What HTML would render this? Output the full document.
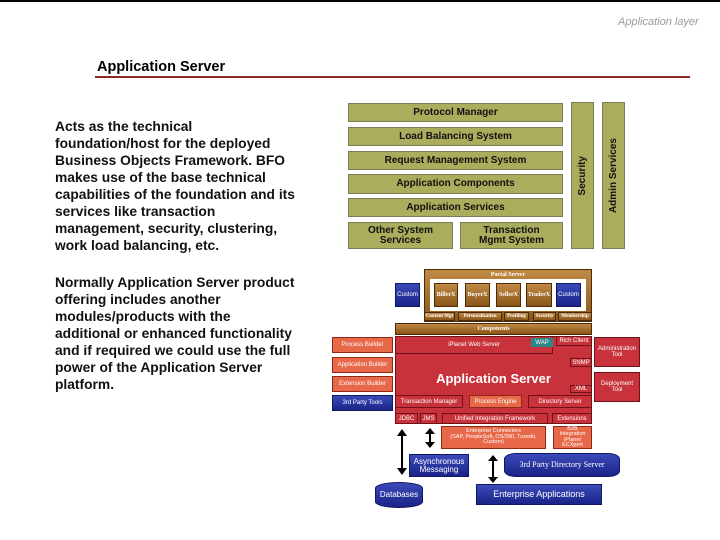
<!DOCTYPE html>
<html><head><meta charset="utf-8"><style>
*{margin:0;padding:0;box-sizing:border-box}
body{width:720px;height:540px;background:#fff;position:relative;overflow:hidden;font-family:"Liberation Sans",Arial,sans-serif}
.a{position:absolute;display:flex;align-items:center;justify-content:center;text-align:center;line-height:1}
.g{background:#a9ad5c;border:1px solid #7c7c5a;font-size:10px;font-weight:bold;color:#111}
.v{writing-mode:vertical-rl;transform:rotate(180deg)}
.br{background:linear-gradient(#c08a44,#8a5518);border:1px solid #4a2a08;color:#fff;font-size:6px;font-family:"Liberation Serif",serif;font-weight:bold}
.bl{background:linear-gradient(#3a4ab8,#1a2488);border:1px solid #101860;color:#fff;font-size:6px}
.rd{background:#c8323a;border:1px solid #701018;color:#fff;font-size:6px}
.or{background:#e8684a;border:1px solid #902818;color:#fff;font-size:6px}
.txt{position:absolute;left:55px;font-size:13.8px;font-weight:bold;line-height:17px;color:#111;white-space:nowrap}
</style></head><body>
<div style="position:absolute;left:0;top:0;width:720px;height:2px;background:#000"></div>
<div style="position:absolute;left:618px;top:16px;font-size:11px;font-style:italic;color:#999">Application layer</div>
<div style="position:absolute;left:97px;top:59px;font-size:14.5px;font-weight:bold;color:#000">Application Server</div>
<div style="position:absolute;left:95px;top:76px;width:595px;height:2px;background:#8b2a2a"></div>
<div class="txt" style="top:118px">Acts as the technical<br>foundation/host for the deployed<br>Business Objects Framework. BFO<br>makes use of the base technical<br>capabilities of the foundation and its<br>services like transaction<br>management, security, clustering,<br>work load balancing, etc.</div>
<div class="txt" style="top:274px">Normally Application Server product<br>offering includes another<br>modules/products with the<br>additional or enhanced functionality<br>and if required we could use the full<br>power of the Application Server<br>platform.</div>

<div class="a g" style="left:348px;top:103px;width:215px;height:19px">Protocol Manager</div>
<div class="a g" style="left:348px;top:127px;width:215px;height:19px">Load Balancing System</div>
<div class="a g" style="left:348px;top:151px;width:215px;height:19px">Request Management System</div>
<div class="a g" style="left:348px;top:174px;width:215px;height:20px">Application Components</div>
<div class="a g" style="left:348px;top:198px;width:215px;height:19px">Application Services</div>
<div class="a g" style="left:348px;top:222px;width:105px;height:27px">Other System<br>Services</div>
<div class="a g" style="left:460px;top:222px;width:103px;height:27px">Transaction<br>Mgmt System</div>
<div class="a g" style="left:571px;top:102px;width:23px;height:147px"><span class="v">Security</span></div>
<div class="a g" style="left:602px;top:102px;width:23px;height:147px"><span class="v">Admin Services</span></div>

<div class="a br" style="left:424px;top:269px;width:168px;height:53px;align-items:flex-start;padding-top:2px">Portal Server</div>
<div style="position:absolute;left:430px;top:279px;width:156px;height:32px;background:#fff"></div>
<div class="a bl" style="left:395px;top:283px;width:25px;height:24px">Custom</div>
<div class="a br" style="left:434px;top:283px;width:24px;height:24px">BillerX</div>
<div class="a br" style="left:465px;top:283px;width:25px;height:24px">BuyerX</div>
<div class="a br" style="left:496px;top:283px;width:25px;height:24px">SellerX</div>
<div class="a br" style="left:526px;top:283px;width:26px;height:24px">TraderX</div>
<div class="a bl" style="left:556px;top:283px;width:25px;height:24px">Custom</div>
<div class="a br" style="left:424px;top:312px;width:31px;height:9px;font-size:5px">Content Mgt</div>
<div class="a br" style="left:458px;top:312px;width:44px;height:9px;font-size:5px">Personalization</div>
<div class="a br" style="left:504px;top:312px;width:25px;height:9px;font-size:5px">Profiling</div>
<div class="a br" style="left:533px;top:312px;width:23px;height:9px;font-size:5px">Security</div>
<div class="a br" style="left:558px;top:312px;width:34px;height:9px;font-size:5px">Membership</div>
<div class="a br" style="left:395px;top:323px;width:197px;height:12px">Components</div>

<div class="a rd" style="left:395px;top:336px;width:197px;height:88px;font-size:13px;font-weight:bold;padding-bottom:4px">Application Server</div>
<div class="a rd" style="left:395px;top:336px;width:158px;height:18px">iPlanet Web Server</div>
<div class="a" style="left:531px;top:338px;width:22px;height:9px;background:#2a8888;color:#fff;font-size:6px">WAP</div>
<div class="a rd" style="left:556px;top:336px;width:36px;height:10px">Rich Client</div>
<div class="a rd" style="left:570px;top:358px;width:22px;height:9px">SNMP</div>
<div class="a rd" style="left:570px;top:385px;width:22px;height:8px">XML</div>
<div class="a rd" style="left:395px;top:395px;width:68px;height:13px">Transaction Manager</div>
<div class="a or" style="left:469px;top:395px;width:53px;height:13px">Process Engine</div>
<div class="a rd" style="left:528px;top:395px;width:64px;height:13px">Directory Server</div>
<div class="a rd" style="left:395px;top:413px;width:23px;height:11px">JDBC</div>
<div class="a rd" style="left:420px;top:413px;width:17px;height:11px">JMS</div>
<div class="a rd" style="left:442px;top:413px;width:106px;height:11px">Unified Integration Framework</div>
<div class="a rd" style="left:552px;top:413px;width:40px;height:11px">Extensions</div>

<div class="a or" style="left:332px;top:337px;width:61px;height:16px">Process Builder</div>
<div class="a or" style="left:332px;top:357px;width:61px;height:16px">Application Builder</div>
<div class="a or" style="left:332px;top:376px;width:61px;height:16px">Extension Builder</div>
<div class="a bl" style="left:332px;top:395px;width:61px;height:16px">3rd Party Tools</div>
<div class="a rd" style="left:594px;top:337px;width:46px;height:30px">Administration<br>Tool</div>
<div class="a rd" style="left:594px;top:372px;width:46px;height:30px">Deployment<br>Tool</div>

<div class="a or" style="left:441px;top:426px;width:105px;height:23px;font-size:5.5px">Enterprise Connectors<br>(SAP, PeopleSoft, OS/390, Tuxedo, Custom)</div>
<div class="a or" style="left:553px;top:426px;width:39px;height:23px;font-size:5.5px">B2B Integration<br>iPlanet ECXpert</div>
<div class="a bl" style="left:409px;top:454px;width:60px;height:23px;font-size:8px">Asynchronous<br>Messaging</div>
<div class="a bl" style="left:504px;top:453px;width:116px;height:24px;border-radius:12px/6px;font-size:8px;font-family:'Liberation Serif',serif">3rd Party Directory Server</div>
<div class="a bl" style="left:375px;top:482px;width:48px;height:26px;border-radius:24px/6px;font-size:8px">Databases</div>
<div class="a bl" style="left:476px;top:484px;width:126px;height:21px;font-size:9px">Enterprise Applications</div>

<svg width="720" height="540" style="position:absolute;left:0;top:0">
<g fill="#000">
<rect x="401" y="436" width="2" height="32"/><path d="M397,436 L407,436 L402,429z M397,468 L407,468 L402,475z"/>
<rect x="429" y="433" width="2" height="10"/><path d="M425,434 L435,434 L430,428z M425,442 L435,442 L430,448z"/>
<rect x="492" y="461" width="2" height="17"/><path d="M488,461 L498,461 L493,455z M488,477 L498,477 L493,483z"/>
</g>
</svg>
</body></html>
